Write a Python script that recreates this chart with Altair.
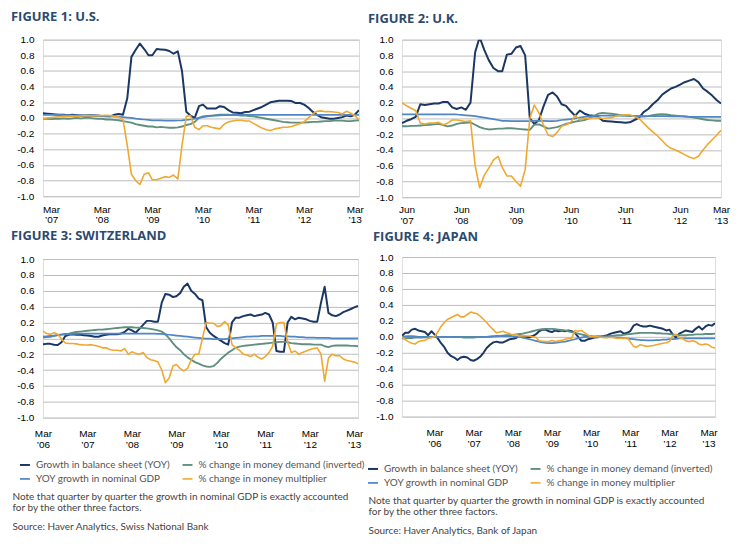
import altair as alt
import pandas as pd

SERIES = [
    "Growth in balance sheet (YOY)",
    "% change in money demand (inverted)",
    "YOY growth in nominal GDP",
    "% change in money multiplier",
]
COLORS = ["#1b3764", "#5f8f7e", "#4f86c6", "#f0a830"]
WIDTHS = [2.0, 1.6, 1.6, 2.0]

# ---------------- FIGURE 1: U.S. (monthly from Jan 2007) ----------------
us_start = "2007-01-01"
us_bal = [0.06, 0.055, 0.05, 0.045, 0.04, 0.04, 0.035, 0.04, 0.035, 0.03,
          0.03, 0.035, 0.03, 0.03, 0.025, 0.02, 0.02, 0.04, 0.05, 0.04,
          0.25, 0.78, 0.87, 0.95, 0.88, 0.80, 0.80, 0.88, 0.875, 0.87,
          0.855, 0.82, 0.85, 0.6, 0.08, 0.03, 0.0, 0.15, 0.17, 0.12,
          0.12, 0.12, 0.15, 0.14, 0.1, 0.07, 0.065, 0.06, 0.075, 0.08,
          0.1, 0.12, 0.14, 0.17, 0.2, 0.21, 0.22, 0.22, 0.22, 0.215,
          0.19, 0.19, 0.17, 0.13, 0.08, 0.04, 0.01, 0.0, -0.01, -0.01,
          0.0, 0.01, 0.03, 0.02, 0.04, 0.1]
us_dem = [-0.01, -0.01, -0.015, -0.01, -0.01, -0.005, -0.01, -0.005, 0.0, -0.005,
          0.0, 0.0, -0.005, -0.01, -0.01, -0.02, -0.02, -0.025, -0.03, -0.04,
          -0.05, -0.06, -0.08, -0.09, -0.1, -0.11, -0.11, -0.12, -0.115, -0.12,
          -0.125, -0.125, -0.12, -0.11, -0.09, -0.08, -0.05, 0.0, 0.02, 0.025,
          0.03, 0.035, 0.04, 0.04, 0.04, 0.035, 0.035, 0.03, 0.03, 0.025,
          0.02, 0.01, 0.0, -0.01, -0.02, -0.03, -0.04, -0.05, -0.055, -0.06,
          -0.06, -0.06, -0.06, -0.055, -0.05, -0.05, -0.045, -0.04, -0.04, -0.035,
          -0.035, -0.035, -0.04, -0.04, -0.035, -0.03]
us_gdp = [0.04, 0.04, 0.04, 0.04, 0.038, 0.036, 0.035, 0.034, 0.033, 0.032,
          0.03, 0.03, 0.028, 0.026, 0.024, 0.022, 0.02, 0.018, 0.015, 0.01,
          0.005, 0.0, -0.01, -0.015, -0.02, -0.025, -0.03, -0.03, -0.032, -0.035,
          -0.035, -0.035, -0.033, -0.03, -0.025, -0.02, -0.01, 0.0, 0.01, 0.02,
          0.025, 0.03, 0.033, 0.035, 0.037, 0.038, 0.04, 0.04, 0.04, 0.04,
          0.04, 0.04, 0.04, 0.04, 0.04, 0.04, 0.04, 0.04, 0.04, 0.04,
          0.04, 0.04, 0.04, 0.04, 0.04, 0.04, 0.04, 0.04, 0.04, 0.04,
          0.04, 0.04, 0.04, 0.04, 0.04, 0.04]
us_mult = [-0.01, 0.0, 0.005, 0.01, 0.015, 0.02, 0.02, 0.025, 0.02, 0.025,
           0.03, 0.03, 0.025, 0.03, 0.03, 0.035, 0.03, 0.02, 0.01, -0.02,
           -0.35, -0.72, -0.8, -0.85, -0.72, -0.7, -0.79, -0.79, -0.77, -0.75,
           -0.76, -0.73, -0.78, -0.35, 0.02, 0.03, -0.12, -0.15, -0.1, -0.1,
           -0.12, -0.13, -0.14, -0.08, -0.05, -0.04, -0.03, -0.03, -0.04, -0.04,
           -0.07, -0.1, -0.13, -0.15, -0.16, -0.14, -0.13, -0.12, -0.12, -0.11,
           -0.09, -0.07, -0.05, 0.0, 0.05, 0.085, 0.09, 0.08, 0.08, 0.075,
           0.07, 0.05, 0.085, 0.06, 0.03, -0.02]
us_ticks = [(2007, 3), (2008, 3), (2009, 3), (2010, 3), (2011, 3), (2012, 3), (2013, 3)]

# ---------------- FIGURE 2: U.K. (monthly from May 2007) ----------------
uk_start = "2007-05-01"
uk_bal = [-0.06, -0.03, -0.01, 0.02, 0.18, 0.17, 0.18, 0.19, 0.19, 0.21,
          0.21, 0.14, 0.12, 0.14, 0.11, 0.2, 0.84, 1.03, 0.87, 0.74,
          0.64, 0.6, 0.6, 0.81, 0.82, 0.9, 0.92, 0.8, 0.0, -0.07,
          -0.02, 0.15, 0.3, 0.33, 0.28, 0.18, 0.16, 0.09, 0.035, 0.1,
          0.06, 0.04, 0.035, 0.02, -0.03, -0.035, -0.04, -0.045, -0.05, -0.055,
          -0.05, -0.02, 0.01, 0.08, 0.12, 0.18, 0.23, 0.3, 0.34, 0.38,
          0.4, 0.43, 0.46, 0.48, 0.5, 0.46, 0.38, 0.34, 0.29, 0.23,
          0.19]
uk_dem = [-0.1, -0.1, -0.095, -0.095, -0.09, -0.085,
          -0.08, -0.075, -0.07, -0.085, -0.1, -0.09,
          -0.07, -0.06, -0.055, -0.05,
          -0.08, -0.11, -0.13, -0.14, -0.135, -0.13,
          -0.13, -0.125, -0.125, -0.13, -0.135, -0.14, -0.145,
          -0.08, -0.075, -0.1, -0.13, -0.12, -0.11,
          -0.09, -0.07, -0.055, -0.04, -0.03, -0.02, 0.0,
          0.03, 0.06, 0.07, 0.065, 0.06, 0.05,
          0.04, 0.035, 0.03, 0.03, 0.025, 0.025, 0.03, 0.04, 0.05,
          0.055, 0.05, 0.04, 0.035, 0.03, 0.025, 0.02,
          0.01, 0.0, -0.01, -0.02, -0.025, -0.03, -0.03]
uk_gdp = [0.05, 0.05, 0.05, 0.05, 0.05, 0.05, 0.05, 0.05, 0.05, 0.05, 0.05, 0.05,
          0.05, 0.045, 0.04, 0.035,
          0.03, 0.02, 0.01, 0.0, -0.01, -0.02,
          -0.03, -0.03, -0.035, -0.035, -0.035, -0.035, -0.035, -0.03, -0.03, -0.03, -0.035, -0.035, -0.03,
          -0.02, -0.015, -0.01, 0.0, 0.01, 0.02, 0.025, 0.03, 0.035,
          0.035, 0.035, 0.035, 0.035, 0.035, 0.035, 0.035, 0.03, 0.03, 0.03, 0.03, 0.03, 0.03, 0.03,
          0.03, 0.025, 0.025, 0.025, 0.025, 0.02, 0.02, 0.02, 0.02, 0.02, 0.02, 0.02, 0.02]
uk_mult = [0.2, 0.16, 0.13, 0.1, -0.06, -0.07, -0.06, -0.06, -0.05, -0.08,
           -0.06, -0.02, -0.02, -0.03, -0.04, -0.03, -0.6, -0.88, -0.72, -0.63,
           -0.53, -0.48, -0.62, -0.73, -0.73, -0.8, -0.86, -0.65, 0.0, 0.17,
           0.07, -0.08, -0.21, -0.23, -0.18, -0.1, -0.08, -0.05, 0.04, -0.02,
           0.0, 0.0, 0.005, 0.01, 0.0, 0.005, 0.01, 0.03, 0.04, 0.045,
           0.045, 0.02, 0.0, -0.06, -0.12, -0.17, -0.22, -0.28, -0.34, -0.38,
           -0.4, -0.43, -0.46, -0.49, -0.51, -0.48, -0.4, -0.33, -0.27, -0.21,
           -0.15]
uk_ticks = [(2007, 6), (2008, 6), (2009, 6), (2010, 6), (2011, 6), (2012, 6), (2013, 3)]

# ---------------- FIGURE 3: SWITZERLAND (monthly from Mar 2006) ----------------
ch_start = "2006-03-01"
ch_bal = [-0.075, -0.07, -0.07, -0.08, -0.085, -0.05, 0.03, 0.045, 0.05, 0.045,
          0.045, 0.04, 0.035, 0.03, 0.02, 0.02, 0.035, 0.045, 0.05, 0.05,
          0.05, 0.06, 0.08, 0.12, 0.1, 0.07, 0.12, 0.17, 0.22, 0.22,
          0.21, 0.21, 0.45, 0.56, 0.55, 0.52, 0.53, 0.57, 0.65, 0.69,
          0.6, 0.56, 0.5, 0.48, 0.14, 0.07, 0.03, 0.0, -0.03, -0.06,
          -0.08, 0.2, 0.26, 0.26, 0.28, 0.29, 0.3, 0.28, 0.29, 0.3,
          0.32, 0.3, 0.2, -0.16, -0.17, -0.17, 0.2, 0.27, 0.24, 0.26,
          0.25, 0.24, 0.22, 0.21, 0.21, 0.45, 0.65, 0.32, 0.29, 0.28,
          0.3, 0.33, 0.35, 0.37, 0.39, 0.41]
ch_dem = [0.01, 0.015, 0.02, 0.03, 0.04, 0.05, 0.055, 0.06, 0.07, 0.08,
          0.085, 0.09, 0.095, 0.1, 0.105, 0.11, 0.11, 0.115, 0.12, 0.125,
          0.13, 0.135, 0.14, 0.14, 0.14, 0.135, 0.135, 0.13, 0.125, 0.12,
          0.11, 0.1, 0.085, 0.05, 0.0, -0.06, -0.11, -0.15, -0.2, -0.24,
          -0.27, -0.3, -0.32, -0.34, -0.355, -0.36, -0.35, -0.31, -0.26, -0.22,
          -0.18, -0.15, -0.12, -0.105, -0.095, -0.09, -0.085, -0.08, -0.075, -0.07,
          -0.065, -0.06, -0.055, -0.05, -0.045, -0.045, -0.05, -0.06, -0.065, -0.07,
          -0.075, -0.075, -0.075, -0.08, -0.08, -0.08, -0.1, -0.11, -0.095, -0.09,
          -0.09, -0.09, -0.09, -0.095, -0.095, -0.1]
ch_gdp = [0.02, 0.025, 0.03, 0.035, 0.04, 0.045, 0.05, 0.05, 0.055, 0.055,
          0.06, 0.06, 0.06, 0.06, 0.06, 0.06, 0.06, 0.06, 0.06, 0.06,
          0.06, 0.06, 0.06, 0.06, 0.06, 0.06, 0.06, 0.06, 0.06, 0.06,
          0.06, 0.055, 0.055, 0.05, 0.045, 0.04, 0.035, 0.03, 0.025, 0.02,
          0.015, 0.01, 0.005, 0.0, -0.005, -0.005, -0.01, -0.01, -0.01, -0.01,
          -0.005, 0.0, 0.005, 0.01, 0.015, 0.02, 0.02, 0.025, 0.025, 0.03,
          0.03, 0.03, 0.03, 0.03, 0.03, 0.025, 0.025, 0.02, 0.02, 0.015,
          0.015, 0.01, 0.01, 0.01, 0.005, 0.005, 0.005, 0.005, 0.0, 0.0,
          0.0, 0.0, 0.0, 0.0, 0.0, 0.0]
ch_mult = [0.09, 0.06, 0.05, 0.07, 0.05, -0.01, -0.06, -0.065, -0.065, -0.07,
           -0.08, -0.085, -0.085, -0.08, -0.09, -0.1, -0.12, -0.12, -0.14, -0.15,
           -0.15, -0.16, -0.13, -0.2, -0.17, -0.19, -0.2, -0.18, -0.24, -0.27,
           -0.28, -0.3, -0.4, -0.56, -0.5, -0.35, -0.33, -0.38, -0.41, -0.38,
           -0.27, -0.2, -0.2, 0.0, 0.2, 0.19, 0.19, 0.15, 0.16, 0.21,
           0.17, -0.08, -0.12, -0.15, -0.2, -0.21, -0.23, -0.2, -0.24, -0.26,
           -0.23, -0.18, -0.1, 0.18, 0.2, 0.2, -0.05, -0.18, -0.16, -0.2,
           -0.18, -0.16, -0.14, -0.13, -0.12, -0.2, -0.54, -0.25, -0.2, -0.22,
           -0.22, -0.26, -0.28, -0.29, -0.3, -0.32]
ch_ticks = [(2006, 3), (2007, 3), (2008, 3), (2009, 3), (2010, 3), (2011, 3), (2012, 3), (2013, 3)]

# ---------------- FIGURE 4: JAPAN (monthly from May 2005) ----------------
jp_start = "2005-05-01"
jp_bal = [0.01, 0.05, 0.05, 0.09, 0.1, 0.08, 0.07, 0.06, 0.02, 0.07,
          0.03, -0.02, -0.08, -0.13, -0.2, -0.24, -0.26, -0.29, -0.26, -0.25,
          -0.26, -0.29, -0.3, -0.28, -0.25, -0.2, -0.14, -0.1, -0.07, -0.06,
          -0.07, -0.07, -0.05, -0.03, -0.025, -0.015, 0.02, 0.01, 0.0, -0.005,
          0.01, 0.03, 0.07, 0.09, 0.09, 0.07, 0.06, 0.08, 0.07, 0.08,
          0.07, 0.08, 0.07, 0.05, 0.0, -0.05, -0.05, -0.03, -0.02, -0.01,
          -0.005, 0.0, 0.01, 0.02, 0.04, 0.05, 0.06, 0.07, 0.04, 0.05,
          0.07, 0.14, 0.16, 0.14, 0.13, 0.13, 0.14, 0.13, 0.12, 0.11,
          0.1, 0.08, 0.09, 0.03, -0.01, 0.04, 0.06, 0.08, 0.07, 0.06,
          0.1, 0.13, 0.09, 0.13, 0.15, 0.14, 0.17]
jp_dem = [-0.02, -0.02, -0.015, -0.015, -0.01, -0.01, -0.01, -0.005, -0.005, 0.0, 0.0,
          0.0, 0.0, 0.0, 0.0, 0.0, 0.0, 0.0, 0.0, 0.0, 0.0, 0.0, 0.0, 0.0,
          0.0, 0.0, 0.0, 0.005, 0.005, 0.01, 0.01, 0.015, 0.02, 0.02, 0.025, 0.03,
          0.035, 0.04, 0.05, 0.06, 0.07, 0.08, 0.09, 0.095, 0.1, 0.1,
          0.1, 0.095, 0.09, 0.085, 0.08, 0.07, 0.06, 0.05, 0.04, 0.03,
          0.02, 0.01, 0.005, 0.0, 0.0, 0.0, 0.0, 0.005, 0.01, 0.015,
          0.02, 0.02, 0.025, 0.03, 0.035,
          0.04, 0.045, 0.05, 0.05, 0.05, 0.05, 0.05, 0.045, 0.045, 0.04,
          0.04, 0.035, 0.03, 0.025, 0.02, 0.02, 0.02, 0.025, 0.025, 0.03,
          0.03, 0.03, 0.035, 0.035, 0.035, 0.04]
jp_gdp = [0.0, 0.005, 0.01, 0.01, 0.005, 0.0, 0.0, 0.0, -0.005, -0.005, 0.0,
          0.0, 0.0, 0.0, 0.0, 0.0, -0.005, -0.005, -0.005, -0.01, -0.01, -0.01, -0.01,
          -0.005, -0.005, 0.0, 0.0, 0.0, 0.005, 0.005, 0.01, 0.01, 0.01, 0.01, 0.005, 0.0,
          0.0, -0.01, -0.02, -0.03, -0.04, -0.05, -0.06, -0.07, -0.075, -0.08,
          -0.08, -0.075, -0.07, -0.065, -0.06, -0.05, -0.04, -0.03, -0.02, -0.01,
          0.0, 0.0, 0.005, 0.005, 0.01, 0.01, 0.005, 0.0, 0.0, -0.005,
          -0.01, -0.01, -0.015, -0.02, -0.025,
          -0.03, -0.035, -0.04, -0.04, -0.045, -0.045, -0.045, -0.04, -0.04, -0.035,
          -0.035, -0.03, -0.03, -0.025, -0.02, -0.02, -0.02, -0.02, -0.02, -0.02,
          -0.02, -0.02, -0.02, -0.02, -0.02, -0.02]
jp_mult = [0.0, -0.035, -0.06, -0.08, -0.09, -0.06, -0.05, -0.045, -0.02, -0.01,
           0.0, 0.06, 0.13, 0.18, 0.22, 0.24, 0.26, 0.28, 0.25, 0.25,
           0.28, 0.31, 0.3, 0.29, 0.26, 0.22, 0.18, 0.13, 0.09, 0.05,
           0.06, 0.07, 0.05, 0.04, 0.02, 0.03, 0.01, 0.015, 0.01, 0.01,
           0.0, -0.005, -0.05, -0.055, -0.06, -0.06, -0.045, -0.06, -0.05, -0.045,
           -0.03, -0.02, -0.02, 0.08, 0.07, 0.08, 0.05, 0.02, 0.0, 0.0,
           0.0, -0.005, -0.01, -0.01, -0.005, -0.01, -0.02, -0.015, -0.02, -0.01,
           -0.06, -0.12, -0.13, -0.1, -0.11, -0.12, -0.115, -0.11, -0.1, -0.09,
           -0.08, -0.075, -0.06, 0.01, 0.03, -0.01, -0.02, -0.05, -0.06, -0.05,
           -0.06, -0.09, -0.1, -0.09, -0.1, -0.13, -0.14]
jp_ticks = [(2006, 3), (2007, 3), (2008, 3), (2009, 3), (2010, 3), (2011, 3), (2012, 3), (2013, 3)]

Y_TICKS = [-1.0, -0.8, -0.6, -0.4, -0.2, 0.0, 0.2, 0.4, 0.6, 0.8, 1.0]

NOTE = ["Note that quarter by quarter the growth in nominal GDP is exactly accounted",
        "for by the other three factors."]
SOURCE_CH = "Source: Haver Analytics, Swiss National Bank"
SOURCE_JP = "Source: Haver Analytics, Bank of Japan"

FONT = "Lato"
TEXT_GREY = "#555555"
TITLE_BLUE = "#2c4a6e"


def build_frame(start, series_values):
    rows = []
    for name, vals in zip(SERIES, series_values):
        dates = pd.date_range(start, periods=len(vals), freq="MS")
        for d, v in zip(dates, vals):
            rows.append({"date": d.strftime("%Y-%m-%d"), "value": v, "series": name})
    return pd.DataFrame(rows)


def panel(title, start, series_values, ticks, width, height, title_offset,
          label_pad, title_dx=-32, legend=None):
    df = build_frame(start, series_values)
    tick_vals = [alt.DateTime(year=y, month=m, date=1, utc=True) for (y, m) in ticks]
    color = alt.Color(
        "series:N",
        scale=alt.Scale(domain=SERIES, range=COLORS),
        legend=legend,
    )
    return (
        alt.Chart(df)
        .mark_line(strokeJoin="round", clip=True)
        .encode(
            x=alt.X(
                "date:T",
                scale=alt.Scale(type="utc", nice=False),
                axis=alt.Axis(
                    values=tick_vals,
                    labelExpr="[utcFormat(datum.value, '%b'), '\u2019' + utcFormat(datum.value, '%y')]",
                    grid=False, ticks=False, domain=False, title=None,
                    labelAngle=0, labelPadding=label_pad, labelLineHeight=10.5,
                    labelFlush=False, labelOverlap=False,
                ),
            ),
            y=alt.Y(
                "value:Q",
                scale=alt.Scale(domain=[-1, 1], nice=False),
                axis=alt.Axis(
                    values=Y_TICKS,
                    labelExpr="replace(format(datum.value, '.1f'), '\u2212', '-')",
                    grid=True, gridColor="#bdbdbd", gridWidth=1,
                    ticks=False, domain=False, title=None, labelPadding=9,
                ),
            ),
            color=color,
            strokeWidth=alt.StrokeWidth(
                "series:N", scale=alt.Scale(domain=SERIES, range=WIDTHS), legend=None
            ),
        )
        .properties(
            width=width,
            height=height,
            title=alt.TitleParams(
                title, anchor="start", frame="group", font="Open Sans", fontSize=13,
                fontWeight="bold", color=TITLE_BLUE, offset=title_offset, dx=title_dx,
            ),
        )
    )


def make_legend(x_off, y_off):
    return alt.Legend(
        orient="none", legendX=x_off, legendY=y_off, title=None,
        direction="horizontal", columns=2, symbolType="stroke",
        symbolSize=100, symbolStrokeWidth=1.6, labelFont=FONT,
        labelFontSize=10, labelColor=TEXT_GREY, columnPadding=8,
        rowPadding=3, labelOffset=5, labelLimit=400,
    )


def notes(source):
    return alt.TitleParams(
        NOTE, subtitle=[source], orient="bottom", anchor="start",
        font=FONT, fontSize=10, fontWeight="normal", color="#444444",
        lineHeight=11, subtitleFont=FONT, subtitleFontSize=10,
        subtitleColor="#444444", subtitlePadding=9, offset=8, dx=2,
    )


p1 = panel("FIGURE 1: U.S.", us_start, [us_bal, us_dem, us_gdp, us_mult], us_ticks,
           317, 157, title_offset=11, label_pad=8)
p2 = panel("FIGURE 2: U.K.", uk_start, [uk_bal, uk_dem, uk_gdp, uk_mult], uk_ticks,
           320, 158, title_offset=8.5, label_pad=7.5, title_dx=-34)
p3 = panel("FIGURE 3: SWITZERLAND", ch_start, [ch_bal, ch_dem, ch_gdp, ch_mult], ch_ticks,
           316, 159, title_offset=11, label_pad=11, legend=make_legend(-24, 200.5))
p4 = panel("FIGURE 4: JAPAN", jp_start, [jp_bal, jp_dem, jp_gdp, jp_mult], jp_ticks,
           314, 160, title_offset=8.5, label_pad=11, title_dx=-29,
           legend=make_legend(-35, 206.5))

left = alt.vconcat(p1, p3, spacing=4, title=notes(SOURCE_CH)).resolve_scale(
    color="independent", strokeWidth="independent")
right = alt.vconcat(p2, p4, spacing=4, title=notes(SOURCE_JP)).resolve_scale(
    color="independent", strokeWidth="independent")

chart = (
    alt.hconcat(left, right, spacing=0)
    .resolve_scale(color="independent", strokeWidth="independent")
    .properties(padding={"left": 2, "top": 1, "right": 0, "bottom": 0})
    .configure_view(stroke=None)
    .configure_axis(labelFont=FONT, labelFontSize=10, labelColor=TEXT_GREY)
    .configure(background="white")
)

chart.save("out.html", embed_options={"renderer": "svg", "actions": False})
